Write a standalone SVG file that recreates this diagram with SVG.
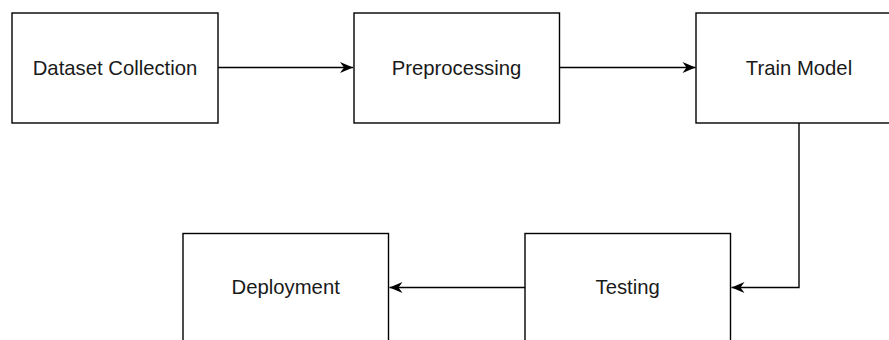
<svg xmlns="http://www.w3.org/2000/svg" width="889" height="340" viewBox="0 0 889 340">
<style>
.box{fill:#fff;stroke:#000;stroke-width:1.4}
.lbl{font-family:"Liberation Sans",Arial,sans-serif;font-size:20.3px;fill:#1a1a1a;text-anchor:middle;dominant-baseline:central}
.edge{fill:none;stroke:#000;stroke-width:1.4}
</style>
<defs>
<marker id="arr" markerUnits="userSpaceOnUse" markerWidth="16" markerHeight="12" viewBox="-14 -6 16 12" refX="0" refY="0" orient="auto">
<path d="M0,0 L-13,-5.5 L-9,0 L-13,5.5 Z" fill="#000"/>
</marker>
</defs>
<rect width="889" height="340" fill="#fff"/>
<g id="connectors">
<path class="edge" d="M218,67.5 H353" marker-end="url(#arr)"/>
<path class="edge" d="M560,67.5 H695.5" marker-end="url(#arr)"/>
<path class="edge" d="M799,123 V287.5 H731.5" marker-end="url(#arr)"/>
<path class="edge" d="M525,287.5 H389.5" marker-end="url(#arr)"/>
</g>
<g id="n1"><rect class="box" x="12" y="13" width="206" height="110"/><text class="lbl" x="115" y="67.5">Dataset Collection</text></g>
<g id="n2"><rect class="box" x="354" y="13" width="205.5" height="110"/><text class="lbl" x="456.5" y="67.5">Preprocessing</text></g>
<g id="n3"><rect class="box" x="696" y="13" width="206" height="110"/><text class="lbl" x="799" y="67.5">Train Model</text></g>
<g id="n4"><rect class="box" x="183" y="233.5" width="205.5" height="110"/><text class="lbl" x="285.7" y="287">Deployment</text></g>
<g id="n5"><rect class="box" x="525" y="233.5" width="205.5" height="110"/><text class="lbl" x="627.7" y="287">Testing</text></g>
</svg>
